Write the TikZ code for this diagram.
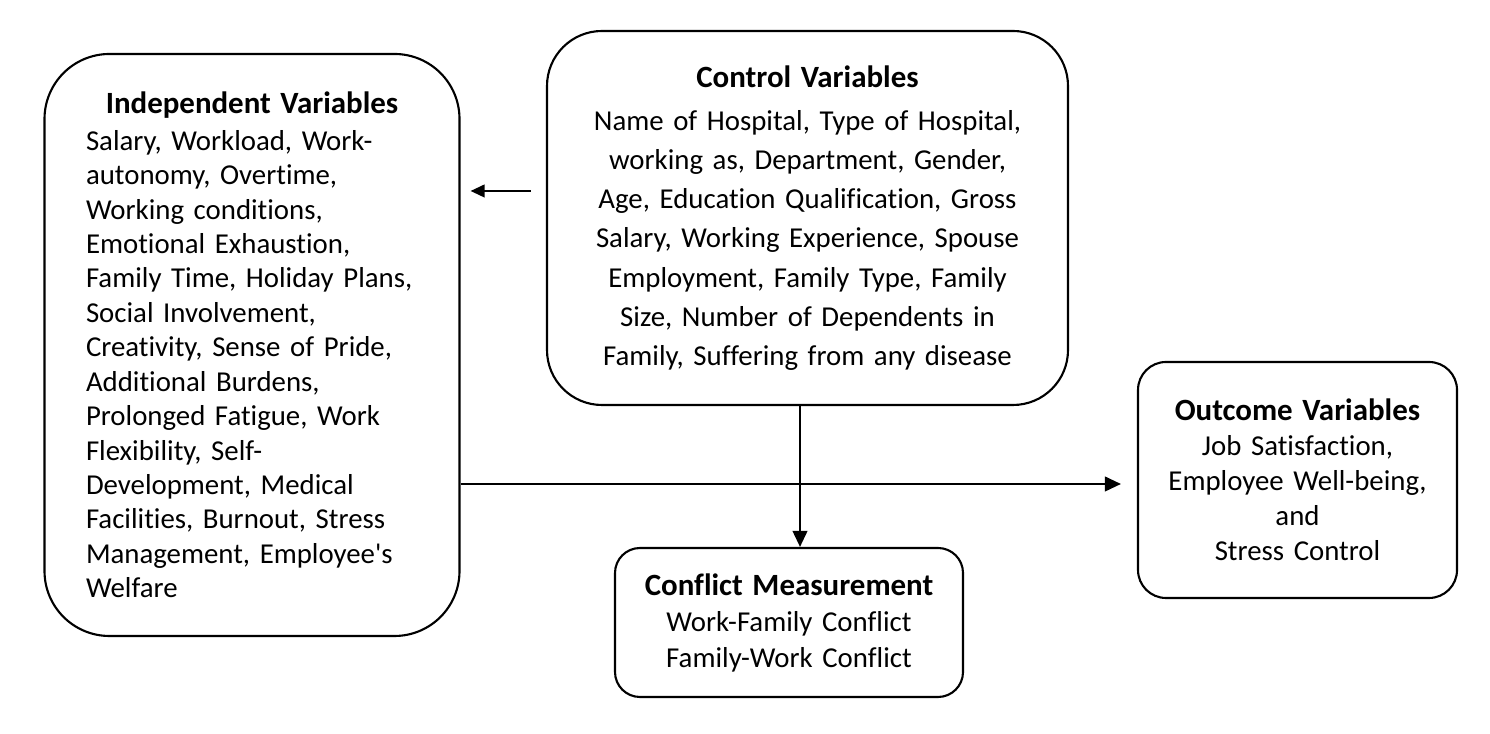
\documentclass[tikz,border=0pt]{standalone}
\usepackage{fontspec}
\setmainfont{Carlito}[Ligatures=CommonOff,WordSpace=0.7]
\usetikzlibrary{arrows.meta,calc}
\tikzset{>={Triangle[length=4.6pt,width=4.2pt]}}
\tikzset{
  varbox/.style={draw,line width=0.6pt,inner sep=0pt},
  link/.style={->,line width=0.6pt},
}
\newcommand{\boxhead}[1]{{\fontsize{8.8}{10}\selectfont\bfseries #1}}

\begin{document}
\begin{tikzpicture}
\useasboundingbox (0,0) rectangle (14.9,7.34);
% the four groups of variables
\node[varbox,rounded corners=0.65cm,minimum width=4.15cm,minimum height=5.82cm,
  text width=3.32cm,align=left,font=\fontsize{8.2}{9.8}\selectfont] (indep) at (2.52,3.89)
  {\makebox[3.32cm]{\boxhead{Independent Variables}}\\[0.6pt]
   Salary, Workload, Work-\\
   autonomy, Overtime,\\
   Working conditions,\\
   Emotional Exhaustion,\\
   Family Time, Holiday Plans,\\
   Social Involvement,\\
   Creativity, Sense of Pride,\\
   Additional Burdens,\\
   Prolonged Fatigue, Work\\
   Flexibility, Self-\\
   Development, Medical\\
   Facilities, Burnout, Stress\\
   Management, Employee\textquotesingle s\\
   Welfare};
\node[varbox,rounded corners=0.55cm,minimum width=5.21cm,minimum height=3.74cm,
  text width=4.5cm,align=center,font=\fontsize{8.2}{11.15}\selectfont] (ctrl) at (8.075,5.16)
  {\boxhead{Control Variables}\\[1.1pt]
   Name of Hospital, Type of Hospital,\\
   working as, Department, Gender,\\
   Age, Education Qualification, Gross\\
   Salary, Working Experience, Spouse\\
   Employment, Family Type, Family\\
   Size, Number of Dependents in\\
   Family, Suffering from any disease};
\node[varbox,rounded corners=0.25cm,minimum width=3.48cm,minimum height=1.49cm,
  text width=3.2cm,align=center,font=\fontsize{8.2}{10.24}\selectfont] (conf) at (7.89,1.115)
  {\boxhead{Conflict Measurement}\\
   Work-Family Conflict\\
   Family-Work Conflict};
\node[varbox,rounded corners=0.28cm,minimum width=3.19cm,minimum height=2.36cm,
  text width=3cm,align=center,font=\fontsize{8.2}{9.96}\selectfont] (outc) at (12.975,2.54)
  {\boxhead{Outcome Variables}\\
   Job Satisfaction,\\
   Employee Well-being,\\
   and\\
   Stress Control\\[0.1cm]};
% links
\draw[link,>={Triangle[length=4pt,width=3.6pt]}] ([shift={(-0.15,0.27)}]ctrl.west) coordinate (cw)
  -- ([xshift=0.1cm]indep.east |- cw);
\coordinate (hz) at ([shift={(-0.16,-0.04)}]outc.west);
\draw[link] (indep.east |- hz) -- (hz);
\draw[link] ([xshift=-0.075cm]ctrl.south) coordinate (cs) -- (cs |- conf.north);
\end{tikzpicture}
\end{document}
